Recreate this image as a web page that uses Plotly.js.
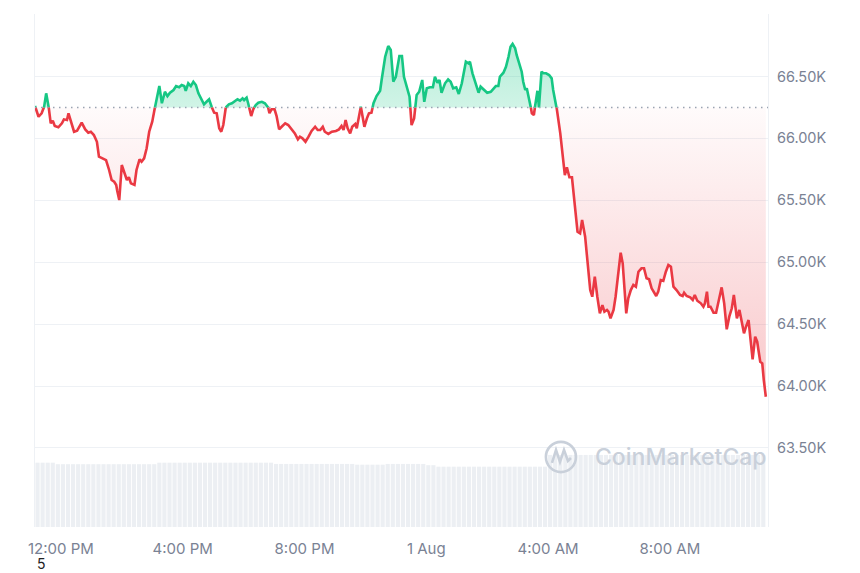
<!DOCTYPE html>
<html>
<head>
<meta charset="utf-8">
<script src="https://cdn.plot.ly/plotly-3.0.1.min.js"></script>
<style>html,body{margin:0;padding:0;background:#fff;}#chart{width:860px;height:573px;}</style>
</head>
<body>
<div id="chart"></div>
<script>
// ---- data (minutes after 2024-07-31 11:09) ----
const startTime = Date.UTC(2024, 6, 31, 11, 9, 0);
const baselinePrice = 66250;

const minutes = [
  0,7,13,18,22,26,31,35,39,46,53,57,63,66,72,77,83,92,99,105,
  110,116,122,126,133,140,146,151,156,160,162,166,171,175,181,185,189,196,200,206,
  210,215,220,225,231,236,241,245,250,256,261,266,273,278,284,289,294,297,302,307,
  312,317,322,329,333,338,343,348,353,358,363,367,371,376,382,
  388,394,399,404,409,412,417,420,426,430,435,440,447,453,459,462,466,472,476,481,
  486,493,499,506,512,518,522,527,533,539,545,552,557,562,567,571,578,585,593,599,
  604,608,612,616,621,625,631,634,638,642,646,649,654,658,663,667,673,680,683,686,
  690,696,701,706,711,718,723,727,732,738,742,747,752,757,763,767,772,778,784,788,
  793,797,801,808,814,819,824,830,835,841,845,849,854,857,862,869,874,878,885,891,
  898,903,908,913,916,923,928,933,937,941,946,949,954,959,962,966,969,972,975,979,
  983,987,990,993,998,1002,1007,1013,1018,1021,1025,1028,
  1035,1040,1044,1048,1053,1058,1062,1066,1069,1074,1078,1084,1088,1094,1098,1103,1108,1113,1118,1122,
  1127,1130,1134,1140,1144,1149,1154,1158,1165,1169,1174,1179,1184,1189,1195,1200,1205,1210,1215,1224,
  1228,1233,1238,1243,1248,1253,1258,1264,1271,1276,1279,1284,1291,1296,1300,1305,1312,1317,1320,1324,
  1327,1331,1337,1342,1346,1353,1358,1363,1368,1373,1377,1383,1388,1393,1397,1401,1406,1410,1414,1419,
  1423,1429,1433,1436,1440
];

const prices = [
  66262,66175,66203,66256,66364,66284,66122,66143,66100,66090,66122,66154,66149,66203,66122,66054,66062,66127,66073,66046,
  66054,66027,65973,65852,65839,65825,65745,65664,65650,65624,65577,65502,65785,65731,65664,65686,65637,65624,65745,65831,
  65812,65839,65920,66054,66135,66243,66337,66423,66284,66377,66342,66369,66391,66423,66413,66431,66423,66385,66445,66423,
  66458,66431,66364,66310,66275,66296,66316,66256,66208,66203,66082,66054,66108,66251,66275,
  66284,66305,66316,66305,66324,66310,66329,66284,66181,66235,66270,66288,66296,66284,66256,66203,66235,66235,66181,66073,
  66094,66122,66108,66068,66041,65993,66014,66001,65973,66014,66060,66094,66068,66068,66094,66054,66036,66054,66060,66073,
  66100,66068,66149,66082,66041,66094,66116,66082,66162,66256,66175,66094,66162,66203,66208,66284,66342,66385,66472,66552,
  66660,66746,66714,66458,66498,66666,66666,66498,66418,66337,66108,66162,66351,66377,66472,66296,66405,66413,66413,66498,
  66450,66472,66369,66445,66477,66458,66405,66413,66359,66445,66552,66620,66607,66620,66526,66431,66369,66418,66391,66369,
  66377,66405,66423,66423,66498,66531,66579,66660,66741,66763,66728,66674,66607,66539,66458,66391,66405,66351,66296,66203,
  66189,66310,66385,66251,66539,66526,66526,66512,66485,66391,66284,66243,
  66041,65852,65704,65767,65686,65686,65529,65341,65246,65233,65341,65206,65044,64775,64721,64883,64721,64587,64654,64600,
  64614,64600,64547,64614,64721,64910,65077,64991,64587,64708,64775,64816,64802,64923,64951,64951,64870,64862,64789,64727,
  64762,64856,64850,64923,64977,64964,64802,64775,64735,64727,64754,64727,64716,64695,64735,64689,64668,64640,64668,64762,
  64640,64640,64592,64592,64668,64797,64668,64458,64560,64628,64735,64547,64614,64506,64426,64479,64533,64371,64216,64398,
  64358,64196,64183,64048,63913
];

const volumes = [
  25.7,25.7,25.7,25.7,
  25.1,25.1,25.1,25.1,25.1,25.1,25.1,25.1,25.1,25.1,25.1,25.1,25.1,25.1,25.1,25.1,25.1,25.1,25.1,25.1,
  25.7,25.7,25.7,25.7,25.7,25.7,25.7,25.7,25.7,25.7,25.7,25.7,25.7,25.7,25.7,25.7,25.7,25.7,25.7,25.7,25.7,25.7,25.7,
  25.2,25.2,25.2,25.2,25.2,25.2,25.2,25.2,25.2,25.2,25.2,25.2,25.2,25.2,25.2,25.2,
  24.9,24.9,24.9,24.9,24.9,24.9,
  25.2,25.2,25.2,25.2,25.2,25.2,25.2,25.2,
  24.7,24.7,
  24.1,24.1,24.1,24.1,24.1,24.1,24.1,24.1,24.1,24.1,24.1,24.1,24.1,24.1,24.1,24.1,24.1,24.1,24.1,24.1,24.1,24.1,
  28.8,28.8,28.8,28.8,28.8,28.8,28.8,28.8,28.8,28.8,28.8,28.8,28.8,28.8,28.8,28.8,28.8,28.8,28.8,28.8,
  28.8,28.8,28.8,28.8,28.8,28.8,28.8,28.8,28.8,28.8,28.8,28.8,28.8,28.8,28.8,28.8,28.8,28.8,28.8,28.8,
  28.8,28.8,28.8
];
const volumeBarMinutes = 10;

const xTickVals = ["2024-07-31 12:00","2024-07-31 16:00","2024-07-31 20:00","2024-08-01 00:00","2024-08-01 04:00","2024-08-01 08:00"];
const xTickText = ["12:00 PM","4:00 PM","8:00 PM","1 Aug","4:00 AM","8:00 AM"];
const yTickVals = [63500,64000,64500,65000,65500,66000,66500,67000];
const yTickText = ["63.50K","64.00K","64.50K","65.00K","65.50K","66.00K","66.50K",""];

// ---- helpers ----
function toT(m){
  const d = new Date(startTime + m*60000);
  const p = n => String(n).padStart(2,'0');
  return d.getUTCFullYear()+'-'+p(d.getUTCMonth()+1)+'-'+p(d.getUTCDate())+' '+
         p(d.getUTCHours())+':'+p(d.getUTCMinutes())+':'+p(d.getUTCSeconds());
}

const GREEN = '#16c784', RED = '#ea3943';
const base = baselinePrice;

// split into above / below baseline segments
const pts = minutes.map((m,i)=>[m, prices[i]]);
const segs = [];
let cur = {up: pts[0][1] >= base, pts:[pts[0]]};
for (let i=1;i<pts.length;i++){
  const [m0,p0] = pts[i-1], [m1,p1] = pts[i];
  const up = p1 >= base;
  if (up !== cur.up){
    const f = (base-p0)/(p1-p0);
    const mc = m0 + f*(m1-m0);
    cur.pts.push([mc, base]);
    segs.push(cur);
    cur = {up, pts:[[mc, base],[m1,p1]]};
  } else cur.pts.push([m1,p1]);
}
segs.push(cur);

const traces = [];
// volume bars
traces.push({
  type:'bar',
  x: volumes.map((v,i)=>toT(volumeBarMinutes*i + volumeBarMinutes/2)),
  y: volumes,
  yaxis:'y2',
  marker:{color:'#eceff3', line:{width:0}},
  hoverinfo:'skip', showlegend:false
});
// fills
segs.forEach(s=>{
  const xs = [toT(s.pts[0][0])].concat(s.pts.map(p=>toT(p[0]))).concat([toT(s.pts[s.pts.length-1][0])]);
  const ys = [base].concat(s.pts.map(p=>p[1])).concat([base]);
  traces.push({
    type:'scatter', mode:'none', x: xs, y: ys, fill:'toself',
    fillcolor: s.up ? 'rgba(22,199,132,0.25)' : 'rgba(234,57,67,0.08)',
    fillgradient: s.up
      ? {type:'vertical', start: base, stop: 66770, colorscale:[[0,'rgba(22,199,132,0.20)'],[1,'rgba(22,199,132,0.32)']]}
      : {type:'vertical', start: 63900, stop: base, colorscale:[[0,'rgba(234,57,67,0.28)'],[1,'rgba(234,57,67,0.02)']]},
    hoverinfo:'skip', showlegend:false
  });
});
// lines
segs.forEach(s=>{
  traces.push({
    type:'scatter', mode:'lines',
    x: s.pts.map(p=>toT(p[0])), y: s.pts.map(p=>p[1]),
    line:{color: s.up ? GREEN : RED, width:2.6, shape:'linear'},
    hoverinfo:'skip', showlegend:false
  });
});

const layout = {
  width:860, height:573,
  margin:{l:35, r:92, t:14, b:46},
  paper_bgcolor:'#ffffff', plot_bgcolor:'#ffffff',
  font:{family:'Inter, Roboto, sans-serif', color:'#7a8294', size:15},
  showlegend:false,
  bargap:0.18,
  xaxis:{
    type:'date',
    range:[toT(0), toT(1444.3)],
    tickmode:'array', tickvals:xTickVals, ticktext:xTickText,
    showgrid:false, zeroline:false, showline:false, ticks:'',
    tickfont:{size:15, color:'#7a8294'},
    ticklabelstandoff:11,
    fixedrange:true
  },
  yaxis:{
    side:'right',
    range:[62861, 67005],
    tickmode:'array', tickvals:yTickVals, ticktext:yTickText,
    showgrid:true, gridcolor:'#eef1f5', gridwidth:1,
    zeroline:false, showline:true, mirror:true, linecolor:'#eef1f5', linewidth:1,
    ticks:'', tickfont:{size:14.5, color:'#7a8294'},
    ticklabelstandoff:5,
    fixedrange:true
  },
  yaxis2:{
    overlaying:'y', range:[0,205], visible:false, fixedrange:true
  },
  shapes:[
    {type:'line', xref:'paper', yref:'y', x0:0, x1:1, y0:base, y1:base,
     line:{color:'#9aa3b2', width:1.5, dash:'1.5px,4.5px'}, layer:'above'},
    {type:'circle', xref:'paper', yref:'paper', x0:0.697, x1:0.738, y0:0.107, y1:0.166,
     line:{color:'#c9d0da', width:2.6}, fillcolor:'rgba(0,0,0,0)', layer:'above'},
    {type:'path', xref:'paper', yref:'paper',
     path:'M 0.7053 0.1248 L 0.7108 0.1501 L 0.7162 0.1267 L 0.7217 0.1501 L 0.7271 0.1287 L 0.7312 0.1345',
     line:{color:'#c9d0da', width:2.6}, layer:'above'}
  ],
  annotations:[
    {xref:'paper', yref:'paper', x:0.8813, y:0.1365, xanchor:'center', yanchor:'middle',
     text:'CoinMarketCap', showarrow:false,
     font:{family:'Inter, Roboto, sans-serif', size:23, color:'#c9d0da', weight:500}},
    {xref:'paper', yref:'paper', x:0.0, y:-0.072, xanchor:'left', yanchor:'middle',
     text:'5', showarrow:false, xshift:0,
     font:{family:'Inter, Roboto, sans-serif', size:14, color:'#222222'}}
  ]
};

Plotly.newPlot('chart', traces, layout, {staticPlot:true, displayModeBar:false});
</script>
</body>
</html>
